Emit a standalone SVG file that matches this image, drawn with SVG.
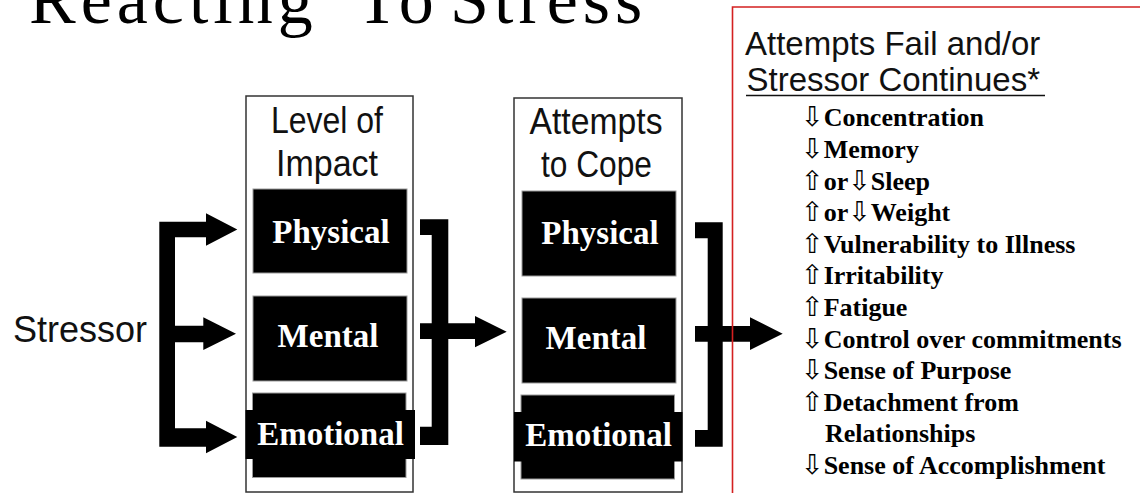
<svg xmlns="http://www.w3.org/2000/svg" width="1140" height="493" viewBox="0 0 1140 493">
<style>
.title{font-family:"Liberation Serif","Times New Roman",serif;font-size:70px;letter-spacing:5px;fill:#000}
.lbl{font-family:"Liberation Sans",Arial,sans-serif;font-size:36px;fill:#111}
.hdr{font-family:"Liberation Sans",Arial,sans-serif;font-size:33px;fill:#111}
.col{fill:#fff;stroke:#333;stroke-width:1.5}
.blk{fill:#000;stroke:#999;stroke-width:1}
.band{fill:#000}
.nt{font-family:"Liberation Serif","Times New Roman",serif;font-weight:bold;font-size:33px;fill:#fff;text-anchor:middle}
.li{font-family:"Liberation Serif","Times New Roman",serif;font-weight:bold;font-size:26px;fill:#000}
.ar{font-family:"DejaVu Sans",sans-serif;font-weight:normal;font-size:27px}
.conn{fill:#000}
.red{fill:none;stroke:#d42020;stroke-width:1.6}
</style>

<g id="title">
<text class="title" y="23"><tspan x="29">Reacting</tspan><tspan x="356">To</tspan><tspan x="450">Stress</tspan></text>
</g>

<g id="stressor">
<text class="lbl" x="13" y="342">Stressor</text>
</g>

<g id="level-of-impact">
<rect class="col" x="246" y="96" width="167" height="396"/>
<text class="lbl" x="271" y="133" textLength="112" lengthAdjust="spacingAndGlyphs">Level of</text>
<text class="lbl" x="276" y="176" textLength="102" lengthAdjust="spacingAndGlyphs">Impact</text>
</g>
<g id="impact-physical">
<rect class="blk" x="253" y="189" width="154" height="84"/>
<text class="nt" x="331" y="243">Physical</text>
</g>
<g id="impact-mental">
<rect class="blk" x="253" y="296" width="154" height="85"/>
<text class="nt" x="328" y="347">Mental</text>
</g>
<g id="impact-emotional">
<rect class="blk" x="252.5" y="393" width="153.5" height="84.5"/>
<rect class="band" x="245.5" y="410" width="169.5" height="49"/>
<text class="nt" x="330.5" y="445">Emotional</text>
</g>

<g id="attempts-to-cope">
<rect class="col" x="514" y="98" width="168" height="394"/>
<text class="lbl" x="529.5" y="134" textLength="133" lengthAdjust="spacingAndGlyphs">Attempts</text>
<text class="lbl" x="541" y="177" textLength="111" lengthAdjust="spacingAndGlyphs">to Cope</text>
</g>
<g id="cope-physical">
<rect class="blk" x="522" y="191" width="154" height="85"/>
<text class="nt" x="600" y="244">Physical</text>
</g>
<g id="cope-mental">
<rect class="blk" x="522" y="298" width="154" height="85"/>
<text class="nt" x="596" y="349">Mental</text>
</g>
<g id="cope-emotional">
<rect class="blk" x="521" y="395" width="153.5" height="84"/>
<rect class="band" x="514" y="412" width="168.5" height="49.5"/>
<text class="nt" x="598.5" y="446">Emotional</text>
</g>

<g id="connectors">
<polygon class="conn" points="159.3,221.7 206,221.7 206,213.3 237.3,229.5 206,245.7 206,237.3 175,237.3 175,428.3 206,428.3 206,420.7 237.3,437 206,453.3 206,446.7 159.3,446.7"/>
<polygon class="conn" points="175,325.7 203.3,325.7 203.3,317.3 236,333.7 203.3,350 203.3,342.3 175,342.3"/>
<polygon class="conn" points="420,219.3 448.3,219.3 448.3,445 420,445 420,426.7 431.7,426.7 431.7,235 420,235"/>
<polygon class="conn" points="420,323.3 475,323.3 475,316 506.7,331.7 475,347.3 475,339 420,339"/>
<polygon class="conn" points="695,222.3 722.7,222.3 722.7,446.7 695,446.7 695,430 707.7,430 707.7,238.3 695,238.3"/>
<polygon class="conn" points="695,326 750,326 750,317.3 782.7,333.7 750,350 750,341.7 695,341.7"/>
</g>

<g id="outcomes">
<path class="red" d="M732.5,493 V7 H1140"/>
<text class="hdr" x="745" y="55">Attempts Fail and/or</text>
<text class="hdr" x="746.5" y="91">Stressor Continues*</text>
<line x1="746" y1="95.5" x2="1045" y2="95.5" stroke="#111" stroke-width="1.6"/>
<text class="li" x="801" y="126.3"><tspan class="ar">⇩</tspan>Concentration</text>
<text class="li" x="801" y="157.9"><tspan class="ar">⇩</tspan>Memory</text>
<text class="li" x="801" y="189.5"><tspan class="ar">⇧</tspan>or<tspan class="ar">⇩</tspan>Sleep</text>
<text class="li" x="801" y="221.1"><tspan class="ar">⇧</tspan>or<tspan class="ar">⇩</tspan>Weight</text>
<text class="li" x="801" y="252.7"><tspan class="ar">⇧</tspan>Vulnerability to Illness</text>
<text class="li" x="801" y="284.3"><tspan class="ar">⇧</tspan>Irritability</text>
<text class="li" x="801" y="315.9"><tspan class="ar">⇧</tspan>Fatigue</text>
<text class="li" x="801" y="347.5"><tspan class="ar">⇩</tspan>Control over commitments</text>
<text class="li" x="801" y="379.1"><tspan class="ar">⇩</tspan>Sense of Purpose</text>
<text class="li" x="801" y="410.7"><tspan class="ar">⇧</tspan>Detachment from</text>
<text class="li" x="825" y="442.3">Relationships</text>
<text class="li" x="801" y="473.9"><tspan class="ar">⇩</tspan>Sense of Accomplishment</text>
</g>
</svg>
